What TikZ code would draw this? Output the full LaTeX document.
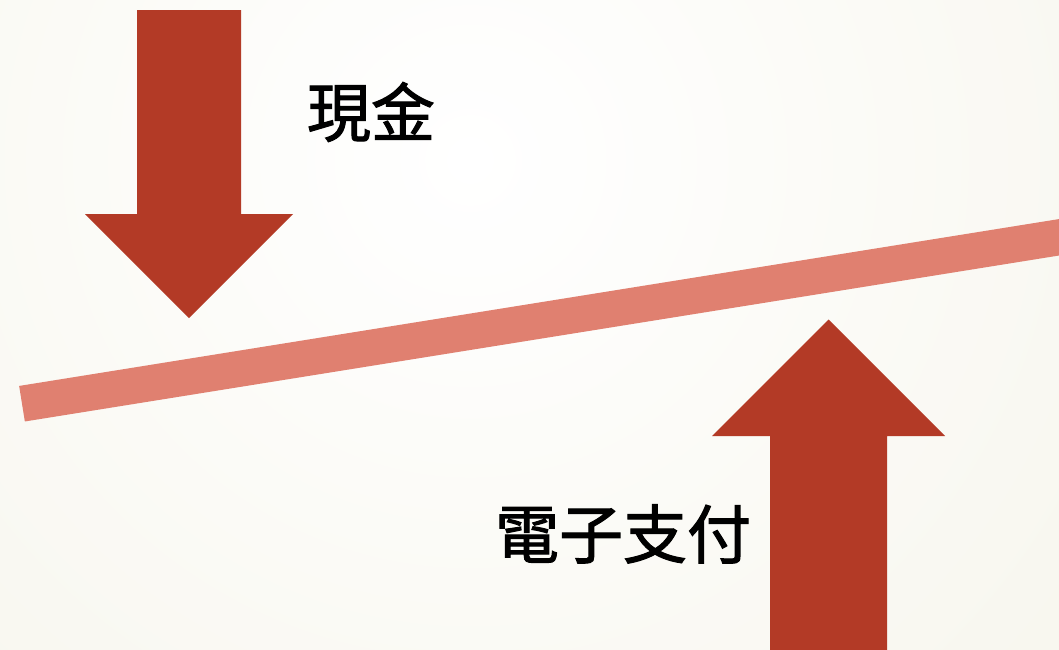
\documentclass[tikz,border=0pt]{standalone}
\usepackage{fontspec}
\newfontfamily\cjk{Noto Sans CJK TC}[FakeBold=1.6]
\usepackage{xcolor}
\definecolor{arrowred}{HTML}{B33A26}
\definecolor{barpink}{HTML}{E08070}
\definecolor{paper}{HTML}{F1EFE0}
\usepackage{tikz}

\begin{document}
\begin{tikzpicture}[x=1pt,y=-1pt,
  label/.style={inner sep=0pt,font=\cjk\fontsize{64}{64}\selectfont}]
\useasboundingbox (0,0) rectangle (1059,649);
\clip (0,0) rectangle (1059,649);
\shade[inner color=white,outer color=paper] (470,160) circle (1450);
% slanted bar
\draw[barpink,line width=36pt] (22,403.7) -- (1120,227.5);
% arrow down
\fill[arrowred] (137,10) -- (241,10) -- (241,214) -- (293,214) -- (189,318)
  -- (85,214) -- (137,214) -- cycle;
% arrow up
\fill[arrowred] (770,660) -- (887,660) -- (887,436) -- (945,436) -- (828.5,319.5)
  -- (712,436) -- (770,436) -- cycle;
\node[label] (cash) at (371,112) {現金};
\node[label] (epay) at (623,534) {電子支付};
\end{tikzpicture}
\end{document}
